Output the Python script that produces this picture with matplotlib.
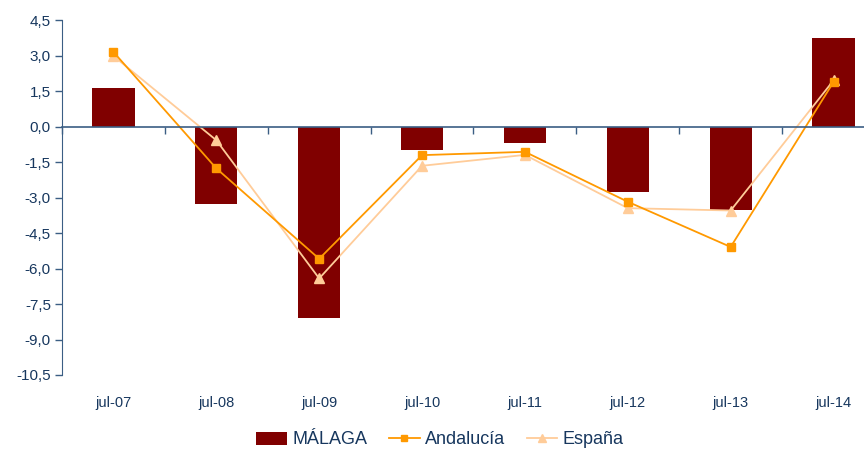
import numpy as np
import matplotlib
matplotlib.use("Agg")
import matplotlib.pyplot as plt
import matplotlib.transforms as mtransforms
from matplotlib.patches import Patch
from matplotlib.lines import Line2D

periods = ["jul-07", "jul-08", "jul-09", "jul-10", "jul-11", "jul-12", "jul-13", "jul-14"]
malaga = [1.63, -3.28, -8.1, -1.0, -0.68, -2.78, -3.52, 3.76]
andalucia = [3.15, -1.77, -5.59, -1.21, -1.07, -3.18, -5.09, 1.88]
espana = [2.98, -0.58, -6.42, -1.66, -1.2, -3.45, -3.55, 1.95]
yticks = [4.5, 3.0, 1.5, 0.0, -1.5, -3.0, -4.5, -6.0, -7.5, -9.0, -10.5]

BAR = "#800000"
ORANGE = "#FF9900"
PEACH = "#FFCC99"
AXIS = "#3B5E84"
TEXT = "#17375E"

plt.rcParams.update({
    "font.family": ["Liberation Sans", "DejaVu Sans"],
})

fig = plt.figure(figsize=(8.64, 4.51), dpi=100)
ax = fig.add_axes([62 / 864, 76 / 451, 1 - 62 / 864, 355 / 451])

x = np.arange(len(periods))
ax.bar(x, malaga, width=0.41, color=BAR, zorder=2)
ax.plot(x, andalucia, color=ORANGE, lw=1.3, marker="s", ms=5.5, zorder=4)
ax.plot(x, espana, color=PEACH, lw=1.3, marker="^", ms=6.5, zorder=3)

ax.set_yticks(yticks)
ax.set_yticklabels([("%.1f" % v).replace(".", ",") for v in yticks],
                   fontsize=11, color=TEXT)
ax.tick_params(axis="y", direction="out", length=5, width=1, color=AXIS, pad=3)

for s in ("top", "right"):
    ax.spines[s].set_visible(False)
ax.spines["left"].set_color(AXIS)
ax.spines["bottom"].set_position(("data", 0))
ax.spines["bottom"].set_color(AXIS)
ax.spines["bottom"].set_linewidth(1.2)
ax.spines["bottom"].set_zorder(5)

# category boundary ticks on the zero line (set before limits: set_xticks expands them)
ax.set_xticks(np.arange(-0.5, 8, 1.0))
ax.set_xticklabels([])
ax.tick_params(axis="x", direction="out", length=5, width=1, color=AXIS)

ax.set_ylim(-10.5, 4.5)
ax.set_xlim(-0.5, 7.5 - 21 / 103)

trans = mtransforms.blended_transform_factory(ax.transData, ax.transAxes)
for xi, lab in zip(x, periods):
    ax.text(xi, -0.078, lab, transform=trans, ha="center", va="center",
            fontsize=10.5, color=TEXT)

handles = [
    Patch(facecolor=BAR, edgecolor="none"),
    Line2D([], [], color=ORANGE, lw=1.3, marker="s", ms=5),
    Line2D([], [], color=PEACH, lw=1.3, marker="^", ms=6),
]
leg = fig.legend(handles, ["MÁLAGA", "Andalucía", "España"], loc="center",
                 bbox_to_anchor=(440 / 864, 1 - 440 / 451), ncol=3, frameon=False,
                 fontsize=13, handlelength=1.7, handletextpad=0.3,
                 columnspacing=1.2)
for t in leg.get_texts():
    t.set_color(TEXT)

fig.savefig("out.png", dpi=100)
